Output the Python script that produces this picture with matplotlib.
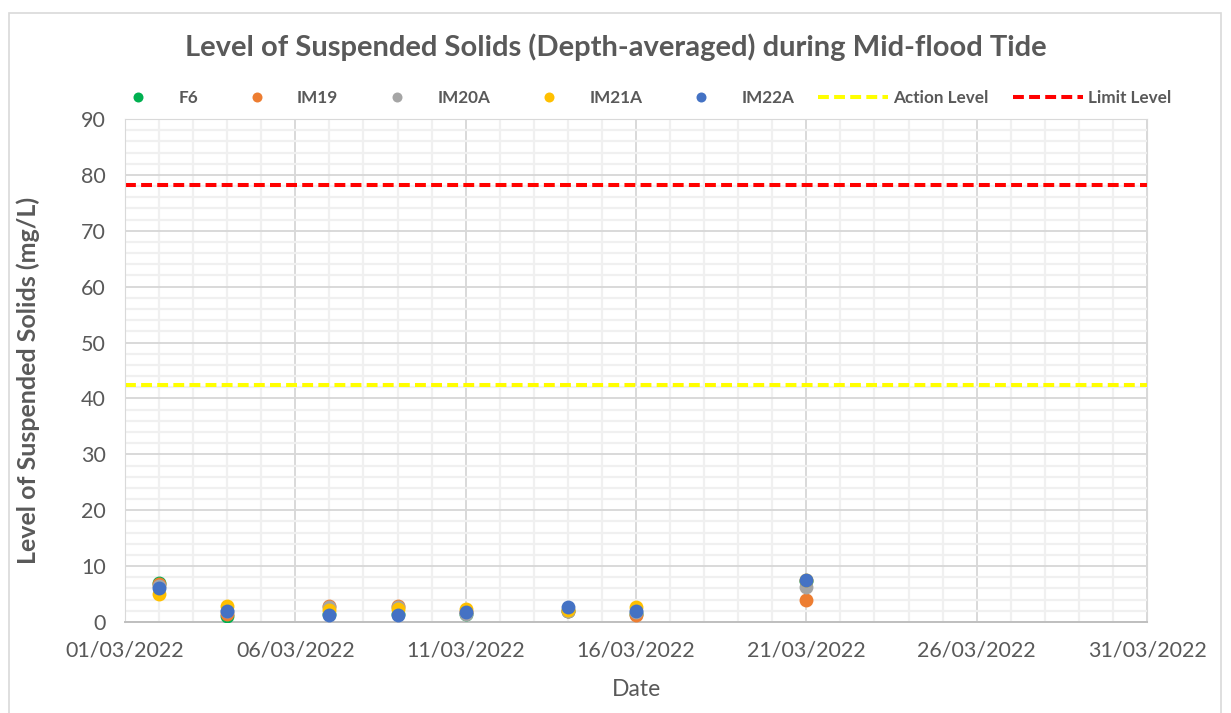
import numpy as np
import pandas as pd
import matplotlib
matplotlib.use('Agg')
import matplotlib.pyplot as plt
import matplotlib.dates as mdates
from matplotlib.lines import Line2D
from matplotlib.patches import Rectangle

# sampling dates and depth-averaged SS (mg/L) at each station
dates = ['2022-03-02', '2022-03-04', '2022-03-07', '2022-03-09',
         '2022-03-11', '2022-03-14', '2022-03-16', '2022-03-21']
f6 = [7.0, 1.0, 1.5, 1.5, 1.5, 2.0, 1.5, 7.3]
im19 = [6.8, 1.5, 2.8, 2.8, 1.8, 2.0, 1.3, 4.0]
im20a = [6.5, 2.0, 2.7, 2.7, 1.4, 1.9, 1.8, 6.2]
im21a = [5.0, 2.8, 2.2, 2.4, 2.3, 2.2, 2.7, 7.6]
im22a = [6.0, 2.0, 1.3, 1.3, 1.8, 2.6, 2.0, 7.5]
action_level = 42.4
limit_level = 78.2

stations = ['F6', 'IM19', 'IM20A', 'IM21A', 'IM22A']
station_values = [f6, im19, im20a, im21a, im22a]
station_colors = ['#00B050', '#ED7D31', '#A5A5A5', '#FFC000', '#4472C4']

plt.rcParams['font.family'] = ['Lato', 'DejaVu Sans']
text_color = '#595959'
dash = (0, (2.7, 1.3))

fig = plt.figure(figsize=(12.31, 7.13), dpi=100)
ax = fig.add_axes([125 / 1231, 1 - 622 / 713, 1022 / 1231, 503 / 713])

x = pd.to_datetime(dates)
handles = []
for name, vals, col in zip(stations, station_values, station_colors):
    ax.scatter(x, vals, s=100, color=col, zorder=3, linewidths=0)
    handles.append(Line2D([], [], ls='none', marker='o', ms=7.2, color=col,
                          markeredgewidth=0, label=name))

ax.axhline(action_level, color='#FFFF00', lw=2.9, ls=dash, zorder=2)
ax.axhline(limit_level, color='#FF0000', lw=2.9, ls=dash, zorder=2)
handles.append(Line2D([], [], color='#FFFF00', lw=2.9, ls=dash, label='Action Level'))
handles.append(Line2D([], [], color='#FF0000', lw=2.9, ls=dash, label='Limit Level'))

ax.set_xlim(pd.Timestamp('2022-03-01'), pd.Timestamp('2022-03-31'))
ax.set_ylim(0, 90)
ax.xaxis.set_major_locator(mdates.DayLocator(bymonthday=[1, 6, 11, 16, 21, 26, 31]))
ax.xaxis.set_minor_locator(mdates.DayLocator())
ax.xaxis.set_major_formatter(mdates.DateFormatter('%d/%m/%Y'))
ax.set_yticks(np.arange(0, 91, 10))
ax.set_yticks(np.arange(0, 91, 2), minor=True)

ax.grid(which='minor', color='#F0F0F0', lw=1.6, zorder=0)
ax.grid(which='major', color='#D9D9D9', lw=1.4, zorder=0)
ax.set_axisbelow(True)
for side in ['left', 'top', 'right']:
    ax.spines[side].set_color('#D9D9D9')
ax.spines['bottom'].set_color('#BFBFBF')
ax.spines['bottom'].set_linewidth(1.4)

ax.tick_params(which='both', length=0)
ax.tick_params(axis='x', labelsize=15.5, colors=text_color, pad=13)
ax.tick_params(axis='y', labelsize=15.5, colors=text_color, pad=14)

ax.set_ylabel('Level of Suspended Solids (mg/L)', fontsize=18,
              fontweight='bold', color=text_color)
ax.yaxis.set_label_coords(-0.095, 0.48)
ax.yaxis.label.set_va('center')
ax.set_xlabel('Date', fontsize=16.5, color=text_color)
ax.xaxis.set_label_coords(0.5, -0.135)
ax.xaxis.label.set_va('center')

fig.text(0.5, 1 - 47 / 713, 'Level of Suspended Solids (Depth-averaged) during Mid-flood Tide',
         ha='center', va='center', fontsize=21, fontweight='bold', color=text_color)

fig.legend(handles=handles, loc='center', bbox_to_anchor=(0.5175, 1 - 98 / 713),
           ncol=7, frameon=False, handlelength=4.1, handletextpad=0.3,
           columnspacing=1.4, prop={'weight': 'bold', 'size': 12.3}, labelcolor=text_color)

# chart area border
fig.patches.append(Rectangle((9 / 1231, -0.05), 1212 / 1231, 1.05 - 13 / 713,
                             transform=fig.transFigure, fill=False,
                             edgecolor='#D9D9D9', lw=1.2))

fig.savefig('out.png', dpi=100)
